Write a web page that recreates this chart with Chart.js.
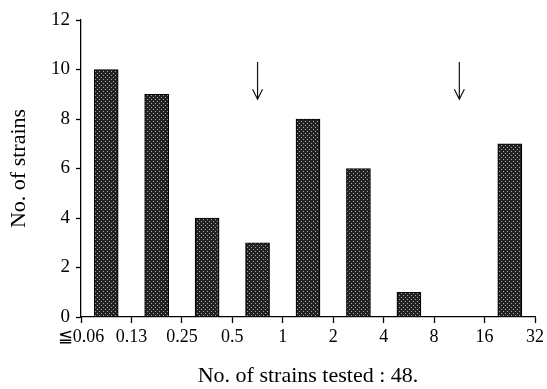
<!DOCTYPE html>
<html>
<head>
<meta charset="utf-8">
<script src="https://cdn.jsdelivr.net/npm/chart.js@4"></script>
<style>
  html, body { margin: 0; padding: 0; background: #fff; }
  #wrap { width: 547px; height: 389px; }
</style>
</head>
<body>
<div id="wrap"><canvas id="myChart" width="547" height="389"></canvas></div>
<script>
// MIC bins (tick labels sit on the bin edges)
const tickLabels = ['≦0.06', '0.13', '0.25', '0.5', '1', '2', '4', '8', '16', '32']
// number of strains in each bin between two ticks
const strainCounts = [10, 9, 4, 3, 8, 6, 1, 0, 7]
// arrows (breakpoints) given as position on the bin axis
const arrowPositions = [3.5, 7.5]
const arrowTop = 10.3
const arrowBottom = 8.8

// stippled fill like the printed figure
function stipple() {
  const c = document.createElement('canvas')
  c.width = 4
  c.height = 4
  const g = c.getContext('2d')
  g.fillStyle = '#222'
  g.fillRect(0, 0, 4, 4)
  g.fillStyle = '#a8a8a8'
  g.fillRect(1, 1, 1, 1)
  g.fillRect(3, 3, 1, 1)
  return g.createPattern(c, 'repeat')
}

const ctx = document.getElementById('myChart').getContext('2d')

const arrows = {
  id: 'arrows',
  afterDatasetsDraw(chart) {
    const x = chart.scales.x
    const y = chart.scales.y
    const c = chart.ctx
    c.save()
    c.strokeStyle = '#111'
    c.lineWidth = 1.2
    arrowPositions.forEach((p) => {
      const px = x.getPixelForValue(p)
      const y1 = y.getPixelForValue(arrowTop)
      const y2 = y.getPixelForValue(arrowBottom)
      c.beginPath()
      c.moveTo(px, y1)
      c.lineTo(px, y2)
      c.moveTo(px - 5, y2 - 10)
      c.lineTo(px, y2)
      c.lineTo(px + 5, y2 - 10)
      c.stroke()
    })
    c.restore()
  },
}

const data = {
  datasets: [
    {
      data: strainCounts.map((v, i) => ({ x: i + 0.5, y: v })),
      backgroundColor: stipple(),
      borderColor: '#000',
      borderWidth: 1.2,
      barThickness: 24,
    },
  ],
}

const config = {
  type: 'bar',
  data: data,
  plugins: [arrows],
  options: {
    responsive: false,
    animation: false,
    layout: { padding: { top: 20, right: 11, left: 0, bottom: 0 } },
    plugins: {
      legend: { display: false },
      tooltip: { enabled: false },
    },
    scales: {
      x: {
        type: 'linear',
        min: 0,
        max: 9,
        offset: false,
        border: { color: '#000', width: 1.3 },
        grid: {
          offset: false,
          drawOnChartArea: false,
          tickLength: 6,
          tickColor: '#000',
          tickWidth: 1.3,
        },
        ticks: {
          stepSize: 1,
          autoSkip: false,
          maxRotation: 0,
          padding: 3,
          color: '#000',
          font: { family: 'Liberation Serif', size: 18 },
          callback: (v) => tickLabels[v],
        },
        title: {
          display: true,
          text: 'No. of strains tested : 48.',
          color: '#000',
          font: { family: 'Liberation Serif', size: 22 },
          padding: { top: 12, bottom: 0 },
        },
        afterFit: (s) => {
          s.height = 72
        },
      },
      y: {
        min: 0,
        max: 12,
        border: { color: '#000', width: 1.3 },
        grid: {
          drawOnChartArea: false,
          tickLength: 5,
          tickColor: '#000',
          tickWidth: 1.3,
        },
        ticks: {
          stepSize: 1,
          padding: 6,
          color: '#000',
          font: { family: 'Liberation Serif', size: 19 },
          callback: (v) => (v % 2 === 0 ? v : ''),
        },
        title: {
          display: true,
          text: 'No. of strains',
          color: '#000',
          font: { family: 'Liberation Serif', size: 22 },
          padding: { top: 6, bottom: 8 },
        },
        afterFit: (s) => {
          s.width = 81
        },
      },
    },
  },
}

var myChart = new Chart(ctx, config)
</script>
</body>
</html>
